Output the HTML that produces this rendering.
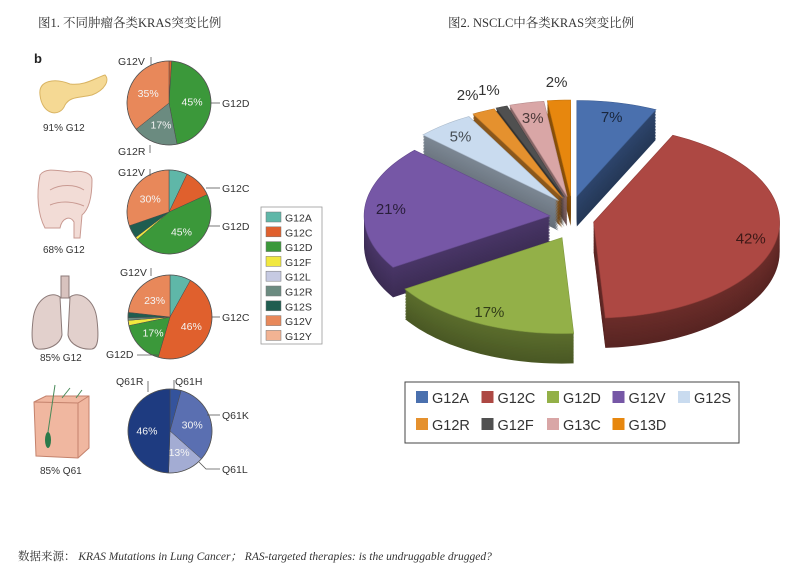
<!DOCTYPE html>
<html><head><meta charset="utf-8">
<style>
html,body{margin:0;padding:0;background:#fff;}
svg{display:block;}
.t{font-family:"Liberation Serif","Noto Serif CJK SC",serif;}
.s{font-family:"Liberation Sans","Noto Sans CJK SC",sans-serif;}
</style></head>
<body>
<svg id="root" width="809" height="569" viewBox="0 0 809 569" xmlns="http://www.w3.org/2000/svg">
<rect width="809" height="569" fill="#fff"/>
<text class="t" x="38" y="27" font-size="12.5" fill="#333">图1. 不同肿瘤各类KRAS突变比例</text>
<text class="t" x="448" y="27" font-size="12.5" fill="#333">图2. NSCLC中各类KRAS突变比例</text>
<text class="s" x="34" y="63" font-size="13" font-weight="bold" fill="#222">b</text>

<g>
<path d="M40,95 C38,80 55,78 70,84 C85,86 95,78 105,75 C110,80 105,90 92,95 C80,98 70,96 65,105 C60,118 42,115 40,95 Z" fill="#f5d994" stroke="#d9b463"/>
</g>
<text class="s" x="43" y="131" font-size="10" fill="#333">91% G12</text>
<g>
<path d="M40,175 C36,195 38,215 45,228 L60,228 C62,218 70,215 74,222 L74,238 L80,238 L82,215 C88,210 92,200 92,180 C92,172 80,170 70,172 C55,170 45,168 40,175 Z" fill="#f2dcd6" stroke="#c99a92"/>
<path d="M50,190 C60,184 75,184 84,190 M50,205 C62,200 75,202 84,206" fill="none" stroke="#c99a92"/>
</g>
<text class="s" x="43" y="253" font-size="10" fill="#333">68% G12</text>
<g>
<path d="M60,297 C50,290 35,300 33,320 C31,338 32,348 38,349 C48,350 60,345 62,335 Z" fill="#e2d0cc" stroke="#8c7a78"/>
<path d="M70,297 C80,290 95,300 97,320 C99,338 98,348 92,349 C82,350 70,345 68,335 Z" fill="#e2d0cc" stroke="#8c7a78"/>
<rect x="61" y="276" width="8" height="22" fill="#d8c2be" stroke="#8c7a78"/>
</g>
<text class="s" x="40" y="361" font-size="10" fill="#333">85% G12</text>
<g>
<path d="M34,402 L46,396 L89,396 L89,448 L78,458 L36,456 Z" fill="#f0b7a0" stroke="#c4826c"/>
<path d="M34,402 L78,403 L89,396 M78,403 L78,458" fill="none" stroke="#c4826c"/>
<ellipse cx="48" cy="440" rx="3" ry="8" fill="#2a7a4a"/>
<path d="M48,432 L55,385 M62,398 L70,388 M76,398 L82,390" stroke="#4a8a5a" fill="none"/>
</g>
<text class="s" x="40" y="474" font-size="10" fill="#333">85% Q61</text>

<g id="leftpies"></g>
<g id="callouts" class="s" font-size="10.5" fill="#333" stroke="#555" stroke-width="0.8">
<text x="118" y="65" stroke="none">G12V</text><line x1="151" y1="57" x2="151" y2="65"/>
<text x="222" y="107" stroke="none">G12D</text><line x1="211" y1="103" x2="220" y2="103"/>
<text x="118" y="155" stroke="none">G12R</text><line x1="150" y1="145" x2="150" y2="153"/>
<text x="118" y="176" stroke="none">G12V</text><line x1="150" y1="169" x2="150" y2="176"/>
<text x="222" y="192" stroke="none">G12C</text><line x1="206" y1="188" x2="220" y2="188"/>
<text x="222" y="230" stroke="none">G12D</text><line x1="208" y1="226" x2="220" y2="226"/>
<text x="120" y="276" stroke="none">G12V</text><line x1="151" y1="268" x2="151" y2="276"/>
<text x="222" y="321" stroke="none">G12C</text><line x1="212" y1="317" x2="220" y2="317"/>
<text x="106" y="358" stroke="none">G12D</text><line x1="137" y1="355" x2="158" y2="355"/>
<text x="116" y="385" stroke="none">Q61R</text><line x1="148" y1="381" x2="148" y2="392"/>
<text x="175" y="385" stroke="none">Q61H</text><line x1="174" y1="380" x2="174" y2="390"/>
<text x="222" y="419" stroke="none">Q61K</text><line x1="207" y1="415" x2="220" y2="415"/>
<text x="222" y="473" stroke="none">Q61L</text><polyline points="199,462 206,469 220,469" fill="none"/>
</g>
<g id="leftlegend"></g>
<g id="pie3d"></g>
<g id="rightlegend"></g>
<text class="t" x="18" y="560" font-size="11.5" fill="#333">数据来源：  <tspan font-style="italic">KRAS Mutations in Lung Cancer；  RAS-targeted therapies: is the undruggable drugged?</tspan></text>
</svg>
<script>
const NS='http://www.w3.org/2000/svg';
const pie1Cats=['G12C','G12D','G12R','G12V'];
const pie1Vals=[1,45,17,35];
const pie2Cats=['G12A','G12C','G12D','G12F','G12S','G12V'];
const pie2Vals=[7,11,45,1,5,30];
const pie3Cats=['G12A','G12C','G12D','G12F','G12R','G12S','G12V'];
const pie3Vals=[8,46,17,2,1,2,23];
const pie4Cats=['Q61H','Q61K','Q61L','Q61R'];
const pie4Vals=[4,30,13,46];
const legendCats=['G12A','G12C','G12D','G12F','G12L','G12R','G12S','G12V','G12Y'];
const nsclcCats=['G12A','G12C','G12D','G12V','G12S','G12R','G12F','G13C','G13D'];
const nsclcVals=[7,42,17,21,5,2,1,3,2];
const nsclcLabels=['7%','42%','17%','21%','5%','2%','1%','3%','2%'];

const colL={G12A:'#5fb7a8',G12C:'#e0602d',G12D:'#3b983a',G12F:'#f1e83f',G12L:'#c6cae2',G12R:'#6b8b80',G12S:'#1f5d50',G12V:'#e8885a',G12Y:'#f2b393',Q61H:'#34539c',Q61K:'#5a6fb1',Q61L:'#a3acd3',Q61R:'#1e3b80'};
const colR={G12A:'#4a70ae',G12C:'#ad4843',G12D:'#93b048',G12V:'#7657a6',G12S:'#c9dbef',G12R:'#e5912e',G12F:'#505050',G13C:'#d9a6a6',G13D:'#e7870e'};

function el(tag,attrs,parent){const e=document.createElementNS(NS,tag);for(const k in attrs)e.setAttribute(k,attrs[k]);parent.appendChild(e);return e;}

function drawPie(g,cats,vals,cx,cy,r,idx){
  const tot=vals.reduce((a,b)=>a+b,0);let acc=0;
  cats.forEach((c,i)=>{
    const a0=acc/tot*2*Math.PI;acc+=vals[i];const a1=acc/tot*2*Math.PI;
    const x0=cx+r*Math.sin(a0),y0=cy-r*Math.cos(a0),x1=cx+r*Math.sin(a1),y1=cy-r*Math.cos(a1);
    const p=el('path',{d:`M${cx},${cy}L${x0},${y0}A${r},${r} 0 ${a1-a0>Math.PI?1:0} 1 ${x1},${y1}Z`,fill:colL[c],stroke:'#4a4a4a','stroke-width':0.5},g);
    
    
    if(vals[i]>=13){
      const am=(a0+a1)/2,lr=r*0.55;
      const t=el('text',{x:cx+lr*Math.sin(am),y:cy-lr*Math.cos(am)+4,'text-anchor':'middle','font-size':10.5,fill:'#f4f4f4',class:'s'},g);
      t.textContent=Math.round(vals[i])+'%';
      
      
    }
  });
  el('circle',{cx,cy,r,fill:'none',stroke:'#555','stroke-width':0.8},g);
}
const lp=document.getElementById('leftpies');
drawPie(lp,pie1Cats,pie1Vals,169,103,42,1);
drawPie(lp,pie2Cats,pie2Vals,169,212,42,2);
drawPie(lp,pie3Cats,pie3Vals,170,317,42,3);
drawPie(lp,pie4Cats,pie4Vals,170,431,42,4);

const ll=document.getElementById('leftlegend');
const lb=el('rect',{x:261,y:207,width:61,height:137,fill:'#fff',stroke:'#999','stroke-width':0.8},ll);

legendCats.forEach((c,i)=>{
  const y=212+i*14.8;
  const r=el('rect',{x:266,y:y,width:15,height:10,fill:colL[c],stroke:'#777','stroke-width':0.5},ll);
  
  const t=el('text',{x:285,y:y+9.5,'font-size':10.5,fill:'#333',class:'s'},ll);t.textContent=c;
  
});

function shade(hex,f){const n=parseInt(hex.slice(1),16);let r=n>>16,g=(n>>8)&255,b=n&255;return `rgb(${Math.round(r*f)},${Math.round(g*f)},${Math.round(b*f)})`;}
const pg=document.getElementById('pie3d');
const CX=572,CY=218,RX=186,RY=96,DEPTH=30,EXP=22;
const tot=nsclcVals.reduce((a,b)=>a+b,0);
let acc=0;const slices=[];
nsclcCats.forEach((c,i)=>{
  const a0=acc/tot*2*Math.PI;acc+=nsclcVals[i];const a1=acc/tot*2*Math.PI;const am=(a0+a1)/2;
  const ox=EXP*Math.sin(am),oy=-EXP*Math.cos(am);
  slices.push({c,i,a0,a1,am,ox,oy});
});
function slicePath(s,dy){
  const cx=CX+s.ox,cy=CY+s.oy+dy;const n=Math.max(4,Math.ceil((s.a1-s.a0)*30));
  let d=`M${cx},${cy}`;
  for(let k=0;k<=n;k++){const a=s.a0+(s.a1-s.a0)*k/n;d+=`L${cx+RX*Math.sin(a)},${cy-RY*Math.cos(a)}`;}
  return d+'Z';
}
const order=slices.slice().sort((a,b)=>(-Math.cos(a.am))-(-Math.cos(b.am)));
order.forEach(s=>{
  const g=el('g',{},pg);
  
  
  for(let dy=DEPTH;dy>0;dy-=1.5){el('path',{d:slicePath(s,dy),fill:shade(colR[s.c],0.5+0.12*(1-dy/DEPTH))},g);}
  el('path',{d:slicePath(s,0),fill:colR[s.c],stroke:shade(colR[s.c],0.85),'stroke-width':0.6},g);
});
slices.forEach(s=>{
  const v=nsclcVals[s.i];const f=v<=2?1.2:(v<=3?0.85:0.86);
  const x=CX+s.ox+RX*f*Math.sin(s.am),y=CY+s.oy-RY*f*Math.cos(s.am)+6;
  const t=el('text',{x,y,'text-anchor':'middle','font-size':15,fill:v<=2?'#333':shade(colR[s.c],0.35),class:'s'},pg);
  t.textContent=nsclcLabels[s.i];
  
  
});

const rl=document.getElementById('rightlegend');
const rb=el('rect',{x:405,y:382,width:334,height:61,fill:'#fff',stroke:'#444','stroke-width':1},rl);

nsclcCats.forEach((c,i)=>{
  const row=i<5?0:1,col=i<5?i:i-5;
  const x=416+col*65.5,y=391+row*27;
  const r=el('rect',{x,y,width:12,height:12,fill:colR[c]},rl);
  
  const t=el('text',{x:x+16,y:y+12,'font-size':14.5,fill:'#333',class:'s'},rl);t.textContent=c;
  
});
</script>
</body></html>
